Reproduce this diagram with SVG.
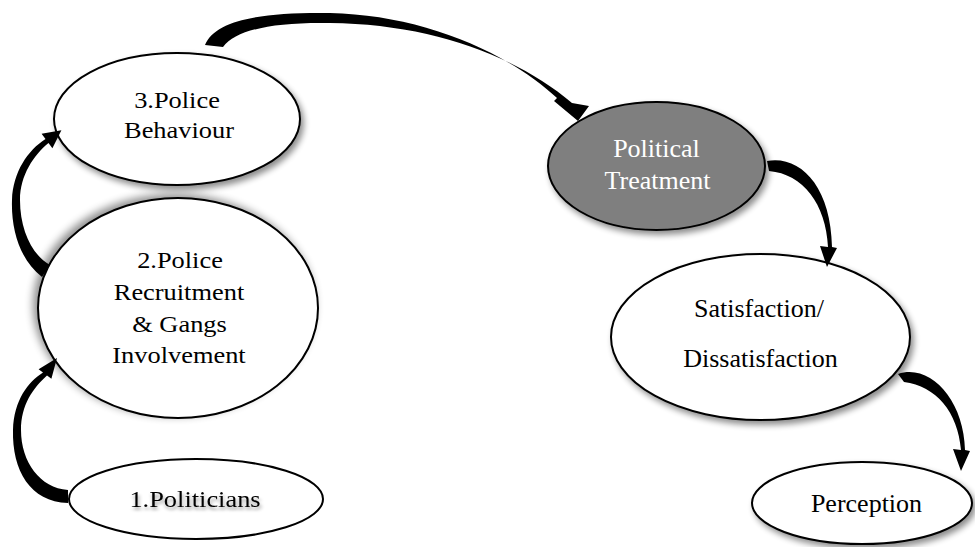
<svg xmlns="http://www.w3.org/2000/svg" width="975" height="547" viewBox="0 0 975 547">
  <defs>
    <filter id="shadow" x="-20%" y="-20%" width="140%" height="150%">
      <feGaussianBlur in="SourceAlpha" stdDeviation="3"/>
      <feOffset dx="3" dy="4" result="b"/>
      <feComponentTransfer><feFuncA type="linear" slope="0.45"/></feComponentTransfer>
      <feMerge><feMergeNode/><feMergeNode in="SourceGraphic"/></feMerge>
    </filter>
    <filter id="shadowUL" x="-20%" y="-20%" width="140%" height="140%">
      <feGaussianBlur in="SourceAlpha" stdDeviation="4"/>
      <feOffset dx="-4" dy="-3" result="b"/>
      <feComponentTransfer><feFuncA type="linear" slope="0.45"/></feComponentTransfer>
      <feMerge><feMergeNode/><feMergeNode in="SourceGraphic"/></feMerge>
    </filter>
    <filter id="textShadow" x="-10%" y="-30%" width="120%" height="180%">
      <feGaussianBlur in="SourceAlpha" stdDeviation="1.8"/>
      <feOffset dx="1" dy="3" result="b"/>
      <feComponentTransfer><feFuncA type="linear" slope="0.4"/></feComponentTransfer>
      <feMerge><feMergeNode/><feMergeNode in="SourceGraphic"/></feMerge>
    </filter>
  </defs>
  <style>
    .node { fill: #ffffff; stroke: #000000; stroke-width: 2; }
    .dark { fill: #7f7f7f; }
    .lbl { font-family: "Liberation Serif", "Times New Roman", serif; font-size: 24px; fill: #000000; text-anchor: middle; }
    .big { font-size: 26px; }
    .lblw { fill: #ffffff; }
    .arrow { fill: #000000; stroke: none; }
  </style>

  <rect width="975" height="547" fill="#ffffff"/>

  <!-- nodes; left-hand labels are set slightly wide (scale 1.1 horizontally) -->
  <g id="node-behaviour">
    <ellipse class="node" cx="177" cy="119" rx="123" ry="66" filter="url(#shadow)"/>
    <text class="lbl" transform="translate(177 108) scale(1.1 1)">3.Police</text>
    <text class="lbl" transform="translate(179 138) scale(1.1 1)">Behaviour</text>
  </g>

  <g id="node-recruitment">
    <ellipse class="node" cx="178" cy="308" rx="140" ry="110" filter="url(#shadowUL)"/>
    <text class="lbl" transform="translate(180 268) scale(1.1 1)">2.Police</text>
    <text class="lbl" transform="translate(179 300) scale(1.1 1)">Recruitment</text>
    <text class="lbl" transform="translate(179.5 332) scale(1.1 1)">&amp; Gangs</text>
    <text class="lbl" transform="translate(179 363) scale(1.1 1)">Involvement</text>
  </g>

  <g id="node-politicians">
    <ellipse class="node" cx="196" cy="499" rx="127" ry="40"/>
    <text class="lbl" transform="translate(195 507) scale(1.1 1)" filter="url(#textShadow)">1.Politicians</text>
  </g>

  <g id="node-treatment">
    <ellipse class="node dark" cx="656.5" cy="166" rx="108.5" ry="64" filter="url(#shadow)"/>
    <text class="lbl big lblw" x="656.5" y="157">Political</text>
    <text class="lbl big lblw" x="657.5" y="189">Treatment</text>
  </g>

  <g id="node-satisfaction">
    <ellipse class="node" cx="760.5" cy="337" rx="149.5" ry="83" filter="url(#shadow)"/>
    <text class="lbl big" x="759" y="317">Satisfaction/</text>
    <text class="lbl big" x="760.5" y="367">Dissatisfaction</text>
  </g>

  <g id="node-perception">
    <ellipse class="node" cx="862" cy="503" rx="110" ry="41" filter="url(#shadow)"/>
    <text class="lbl big" x="866.5" y="512">Perception</text>
  </g>

  <!-- curved block arrows -->
  <g id="connectors">
    <!-- 1 -> 2 -->
    <path class="arrow" d="M 68 503 C 30 502, 12 470, 13 430 C 14 400, 28 382, 43 372.5 L 38.6 369.2 L 57 358 L 51.4 378.8 L 47 375.5 C 33 388, 21 405, 21 430 C 21 462, 40 488, 68 490 Z"/>
    <!-- 2 -> 3 -->
    <path class="arrow" d="M 42 277 C 20 260, 11 230, 12 200 C 13 172, 28 150, 45.5 139 L 41.6 133.8 L 61.4 130.2 L 52.4 148.2 L 48.5 143 C 34 155, 20 175, 20 200 C 20 230, 32 255, 50 265 Z"/>
    <!-- 3 -> Political Treatment -->
    <path class="arrow" d="M 205 45 C 215 20, 262 12, 330 13 C 420 15, 505 50, 557 98 L 554 101 L 578 121 L 589 106 L 572 103 C 515 55, 430 24, 330 23 C 272 22, 236 30, 223 47 Z"/>
    <!-- Political Treatment -> Satisfaction -->
    <path class="arrow" d="M 767 161 C 800 155, 831 186, 832 247 L 837 248 L 827 267 L 820 246 L 828 247 C 826 204, 803 174, 769 171 Z"/>
    <!-- Satisfaction -> Perception -->
    <path class="arrow" d="M 898 374 C 930 363, 964 400, 965 450 L 970 451 L 961 471 L 953 449 L 961 450 C 958 412, 936 386, 904 382 Z"/>
  </g>
</svg>
